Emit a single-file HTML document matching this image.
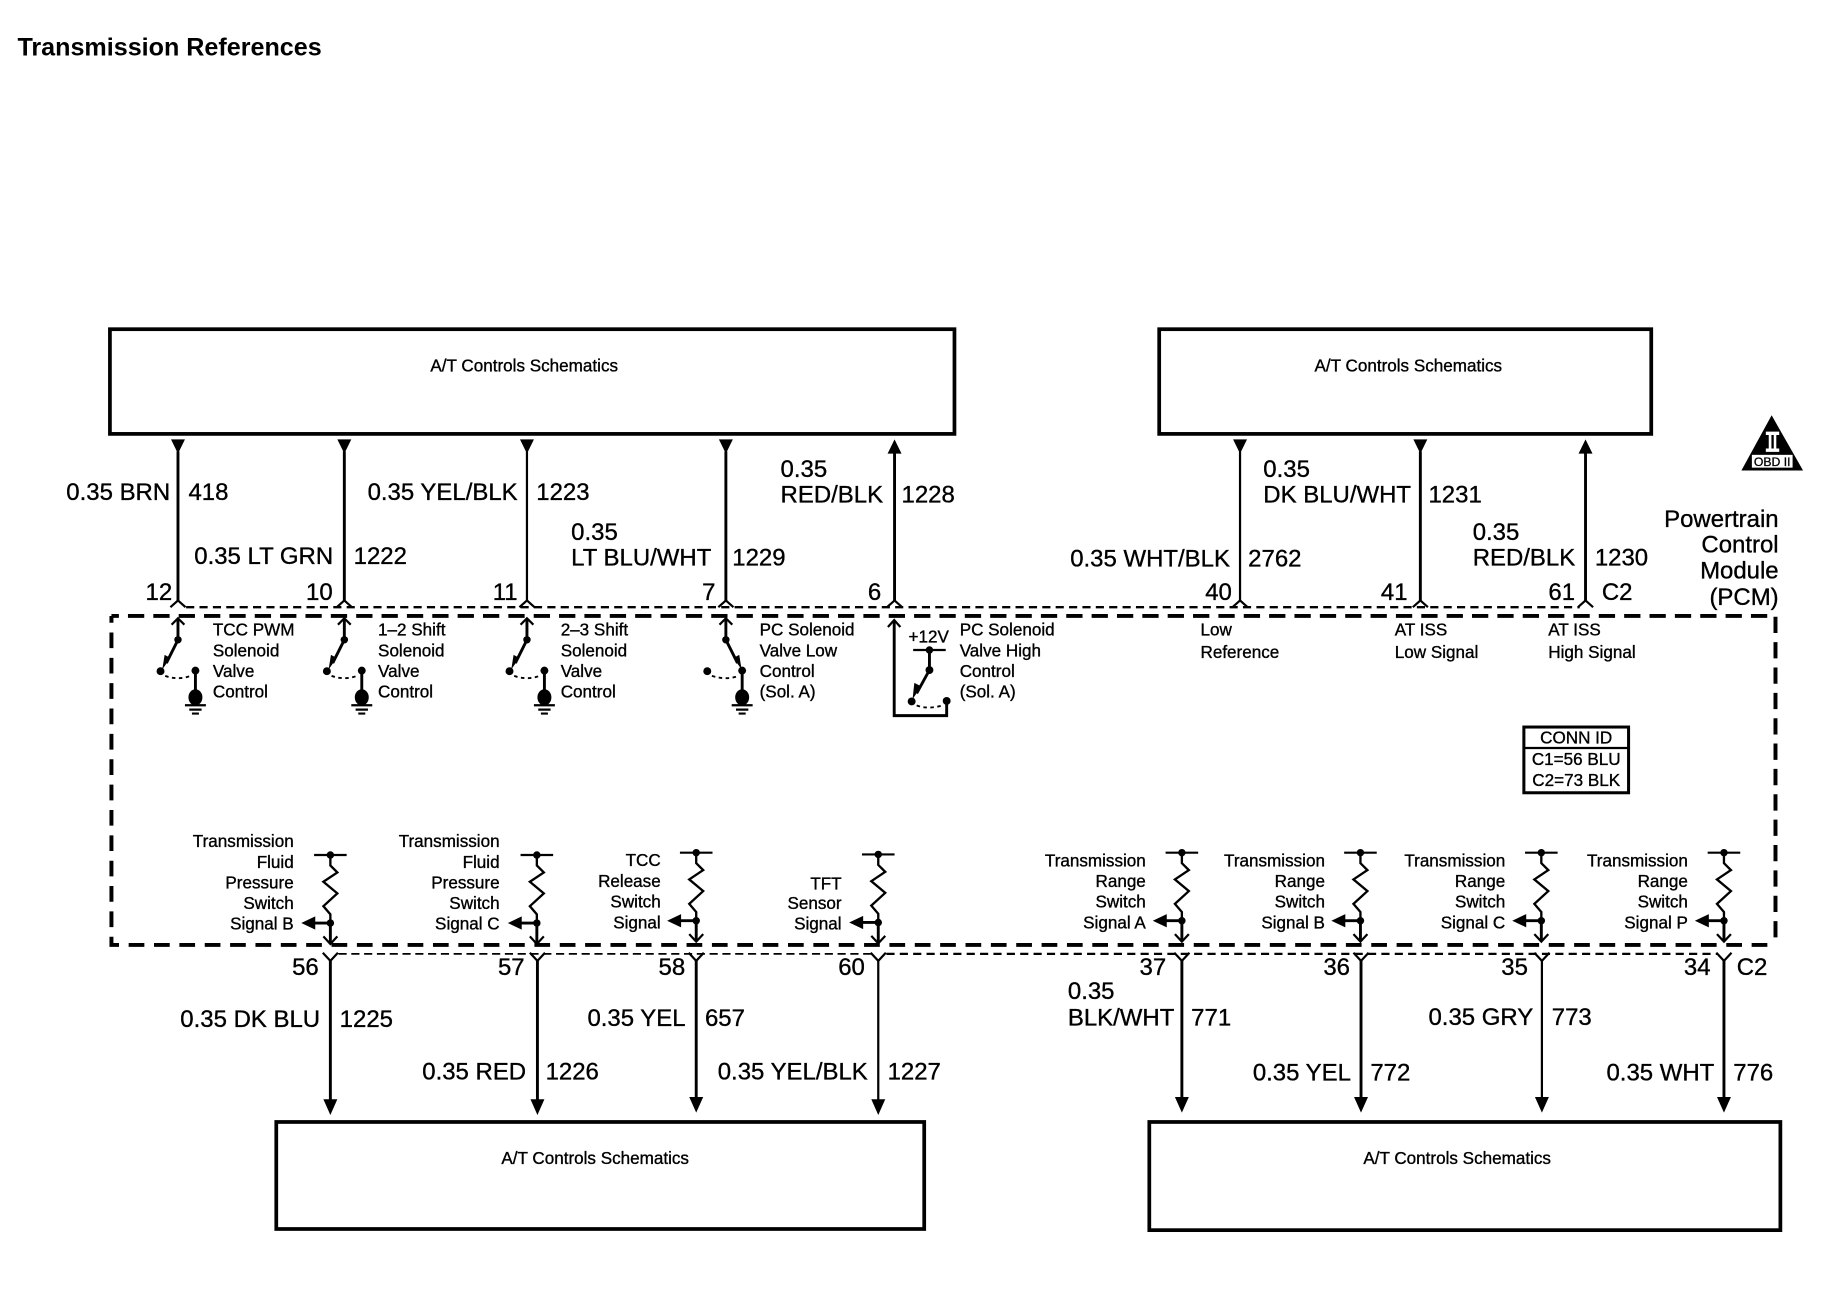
<!DOCTYPE html>
<html><head><meta charset="utf-8"><title>Transmission References</title>
<style>
html,body{margin:0;padding:0;background:#fff;width:1824px;height:1312px;overflow:hidden}
svg{display:block}
text{font-family:"Liberation Sans",sans-serif;fill:#000;stroke:#000;stroke-width:.3}
.s{font-size:14.7px}
.b{font-size:20.6px}
.e{text-anchor:end}
.m{text-anchor:middle}
.w{stroke:#000;stroke-width:2.5;fill:none}
.n{stroke:#000;stroke-width:1.9;fill:none}
.box{fill:#fff;stroke:#000;stroke-width:3.2}
</style></head><body>
<svg width="1824" height="1312" viewBox="0 0 1568 1127.86" xmlns="http://www.w3.org/2000/svg">
<defs>
<g id="gnd">
<path class="w" d="M15 577V600"/><ellipse cx="15" cy="599.5" rx="6" ry="7"/>
<path class="n" d="M6 606.3H24M9.7 610H20.3M12 613.4H18"/>
</g>
<g id="top"><path class="w" d="M0 552V532"/><path class="n" d="M-5.5 537L0 531.5L5.5 537"/><circle cx="0" cy="550" r="3.2"/></g>
<g id="swL">
<use href="#top"/><use href="#gnd"/>
<path class="w" d="M0 550L-10 570"/><path d="M-13.5 575.5L-11.5 563L-6.5 565.5Z"/>
<circle cx="-15" cy="577" r="3.4"/><circle cx="15" cy="576.5" r="3.4"/>
<path d="M-11 581Q0 585 11 581" fill="none" stroke="#000" stroke-width="1.6" stroke-dasharray="3 3"/>
</g>
<g id="sen">
<path class="n" d="M-14 0H14"/><circle cx="0" cy="0" r="3.2"/>
<path d="M0 0V9L6 15L-6 23L6 33L-6 44L0 51V58" fill="none" stroke="#000" stroke-width="2"/>
<circle cx="0" cy="58.5" r="3.2"/>
<path class="w" d="M0 58.5H-14"/><path d="M-25 58.5L-13 52.8V64.2Z"/>
<path class="w" d="M0 58V76"/><path class="n" d="M-6 70L0 76.5L6 70"/>
</g>
<path id="ad" d="M-6 377.7H6L0 390Z"/>
<path id="au" d="M-6 390H6L0 377.7Z"/>
<path id="bd" d="M-6 945H6L0 958.5Z"/>
<path id="chT" class="n" d="M-6.5 522L0 516.2L6.5 522"/>
<path id="chB" class="n" d="M-6.5 819L0 826L6.5 819"/>
</defs>

<text x="15" y="47.5" font-size="21.6" font-weight="bold" style="stroke-width:0">Transmission References</text>

<!-- boxes -->
<rect class="box" x="94.5" y="283" width="726" height="90"/>
<rect class="box" x="996.5" y="283" width="423" height="90"/>
<rect class="box" x="237.5" y="964.5" width="557" height="92"/>
<rect class="box" x="988" y="964.5" width="542.5" height="93"/>
<text class="s" x="370" y="319.5">A/T Controls Schematics</text>
<text class="s" x="1130" y="319.5">A/T Controls Schematics</text>
<text class="s" x="431" y="1000.5">A/T Controls Schematics</text>
<text class="s" x="1172" y="1000.5">A/T Controls Schematics</text>

<!-- PCM dashed boundary -->
<path d="M95.8 529.5H1526.3V812.3" fill="none" stroke="#000" stroke-width="3.4" stroke-dasharray="14 7.8" stroke-dashoffset="7.6"/>
<path d="M95.8 529.5V812.3H1526.3" fill="none" stroke="#000" stroke-width="3.4" stroke-dasharray="13.5 8.3" stroke-dashoffset="7.6"/>
<path d="M160 522H1358" fill="none" stroke="#000" stroke-width="2" stroke-dasharray="7 4.5"/>
<path d="M291 820H749" fill="none" stroke="#000" stroke-width="1.5" stroke-dasharray="7 4"/>
<path d="M762 820H1476" fill="none" stroke="#000" stroke-width="2" stroke-dasharray="7 4.5"/>

<!-- top wires -->
<g>
<path class="w" d="M153 388V517M296 388V517M624 388V517M769 388V517M1221 388V517M1363 388V517"/>
<path class="n" d="M453 388V517M1066 388V517"/>
<use href="#ad" x="153"/><use href="#ad" x="296"/><use href="#ad" x="453"/><use href="#ad" x="624"/>
<use href="#au" x="769"/><use href="#ad" x="1066"/><use href="#ad" x="1221"/><use href="#au" x="1363"/>
<use href="#chT" x="153"/><use href="#chT" x="296"/><use href="#chT" x="453"/><use href="#chT" x="624"/>
<use href="#chT" x="769"/><use href="#chT" x="1066"/><use href="#chT" x="1221"/><use href="#chT" x="1363"/>
</g>

<!-- bottom wires -->
<g>
<path class="w" d="M284 825V947M462 825V947M598.5 825V947M1016 825V947M1170 825V947M1482 825V947"/>
<path class="n" d="M755 825V947M1325.5 825V947"/>
<use href="#bd" x="284"/><use href="#bd" x="462"/><use href="#bd" x="598.5" y="-2"/><use href="#bd" x="755"/>
<use href="#bd" x="1016" y="-2"/><use href="#bd" x="1170" y="-2"/><use href="#bd" x="1325.5" y="-2"/><use href="#bd" x="1482" y="-2"/>
<use href="#chB" x="284"/><use href="#chB" x="462"/><use href="#chB" x="598.5"/><use href="#chB" x="755"/>
<use href="#chB" x="1016"/><use href="#chB" x="1170"/><use href="#chB" x="1325.5"/><use href="#chB" x="1482"/>
</g>

<!-- switches -->
<use href="#swL" x="153"/>
<use href="#swL" x="296"/>
<use href="#swL" x="453"/>
<g transform="translate(624,0)">
<use href="#top"/>
<use href="#gnd" x="-1"/>
<path class="w" d="M0 550L10 570"/><path d="M13.5 575.5L6.5 565.5L11.5 563Z"/>
<circle cx="-16" cy="577" r="3.4"/><circle cx="14" cy="576.5" r="3.4"/>
<path d="M-12 581Q0 585 11 581" fill="none" stroke="#000" stroke-width="1.6" stroke-dasharray="3 3"/>
</g>
<g>
<path class="w" d="M768.7 534V615.2H813.8V603"/><path class="n" d="M763.3 539L768.7 533L774 539"/>
<path class="n" d="M785 558.8H813"/><circle cx="799" cy="558.8" r="3.2"/>
<path class="w" d="M799 558.8V576L788 596"/><circle cx="799" cy="576" r="3.4"/>
<path d="M784.5 601L786 587L792 590Z"/>
<circle cx="783.7" cy="603" r="3.4"/><circle cx="813.8" cy="602.6" r="3.4"/>
<path d="M788 606.5Q798 610 810 606.5" fill="none" stroke="#000" stroke-width="1.6" stroke-dasharray="3 3"/>
</g>

<!-- sensors -->
<use href="#sen" transform="translate(284,735)"/>
<use href="#sen" transform="translate(461.5,735)"/>
<use href="#sen" transform="translate(598.5,733)"/>
<use href="#sen" transform="translate(755,734.5)"/>
<use href="#sen" transform="translate(1016,733)"/>
<use href="#sen" transform="translate(1169.5,733)"/>
<use href="#sen" transform="translate(1325,733)"/>
<use href="#sen" transform="translate(1482,733)"/>

<!-- wire labels top -->
<g>
<text class="b" x="57" y="430">0.35 BRN</text><text class="b" x="162" y="430">418</text>
<text class="b" x="167" y="485">0.35 LT GRN</text><text class="b" x="304" y="485">1222</text>
<text class="b" x="316" y="430">0.35 YEL/BLK</text><text class="b" x="461" y="430">1223</text>
<text class="b" x="491" y="464">0.35</text><text class="b" x="491" y="486">LT BLU/WHT</text><text class="b" x="629.5" y="486">1229</text>
<text class="b" x="671" y="410">0.35</text><text class="b" x="671" y="432">RED/BLK</text><text class="b" x="775" y="432">1228</text>
<text class="b" x="920" y="487">0.35 WHT/BLK</text><text class="b" x="1073" y="487">2762</text>
<text class="b" x="1086" y="410">0.35</text><text class="b" x="1086" y="432">DK BLU/WHT</text><text class="b" x="1228" y="432">1231</text>
<text class="b" x="1266" y="464">0.35</text><text class="b" x="1266" y="486">RED/BLK</text><text class="b" x="1371" y="486">1230</text>
<text class="b e" x="148" y="516">12</text><text class="b e" x="286" y="516">10</text><text class="b e" x="445" y="516">11</text>
<text class="b e" x="615" y="516">7</text><text class="b e" x="757.5" y="516">6</text><text class="b e" x="1059" y="516">40</text>
<text class="b e" x="1210" y="516">41</text><text class="b e" x="1354" y="516">61</text><text class="b" x="1377" y="516">C2</text>
<text class="b e" x="1529" y="453">Powertrain</text><text class="b e" x="1529" y="475">Control</text>
<text class="b e" x="1529" y="497.5">Module</text><text class="b e" x="1529" y="520">(PCM)</text>
</g>

<!-- wire labels bottom -->
<g>
<text class="b" x="155" y="883">0.35 DK BLU</text><text class="b" x="292" y="883">1225</text>
<text class="b" x="363" y="928">0.35 RED</text><text class="b" x="469" y="928">1226</text>
<text class="b" x="505" y="882">0.35 YEL</text><text class="b" x="606" y="882">657</text>
<text class="b" x="617" y="928">0.35 YEL/BLK</text><text class="b" x="763" y="928">1227</text>
<text class="b" x="918" y="859">0.35</text><text class="b" x="918" y="881.5">BLK/WHT</text><text class="b" x="1024" y="881.5">771</text>
<text class="b" x="1077" y="929">0.35 YEL</text><text class="b" x="1178" y="929">772</text>
<text class="b" x="1228" y="881">0.35 GRY</text><text class="b" x="1334" y="881">773</text>
<text class="b" x="1381" y="929">0.35 WHT</text><text class="b" x="1490" y="929">776</text>
<text class="b e" x="274" y="838">56</text><text class="b e" x="451" y="838">57</text><text class="b e" x="589" y="838">58</text><text class="b e" x="743.5" y="838">60</text>
<text class="b e" x="1002.5" y="838">37</text><text class="b e" x="1160.5" y="838">36</text><text class="b e" x="1313.5" y="838">35</text><text class="b e" x="1470.5" y="838">34</text>
<text class="b" x="1493" y="838">C2</text>
</g>

<!-- upper module labels -->
<g>
<text class="s" x="183" y="546.5">TCC PWM</text><text class="s" x="183" y="564.5">Solenoid</text><text class="s" x="183" y="582">Valve</text><text class="s" x="183" y="599.5">Control</text>
<text class="s" x="325" y="546.5">1–2 Shift</text><text class="s" x="325" y="564.5">Solenoid</text><text class="s" x="325" y="582">Valve</text><text class="s" x="325" y="599.5">Control</text>
<text class="s" x="482" y="546.5">2–3 Shift</text><text class="s" x="482" y="564.5">Solenoid</text><text class="s" x="482" y="582">Valve</text><text class="s" x="482" y="599.5">Control</text>
<text class="s" x="653" y="546.5">PC Solenoid</text><text class="s" x="653" y="564.5">Valve Low</text><text class="s" x="653" y="582">Control</text><text class="s" x="653" y="599.5">(Sol. A)</text>
<text class="s" x="825" y="546.5">PC Solenoid</text><text class="s" x="825" y="564.5">Valve High</text><text class="s" x="825" y="582">Control</text><text class="s" x="825" y="599.5">(Sol. A)</text>
<text class="s" x="781" y="552.5">+12V</text>
<text class="s" x="1032" y="546.5">Low</text><text class="s" x="1032" y="565.5">Reference</text>
<text class="s" x="1199" y="546.5">AT ISS</text><text class="s" x="1199" y="565.5">Low Signal</text>
<text class="s" x="1331" y="546.5">AT ISS</text><text class="s" x="1331" y="565.5">High Signal</text>
</g>

<!-- lower module labels -->
<g>
<text class="s e" x="252.5" y="728">Transmission</text><text class="s e" x="252.5" y="746">Fluid</text><text class="s e" x="252.5" y="764">Pressure</text><text class="s e" x="252.5" y="781.5">Switch</text><text class="s e" x="252.5" y="799">Signal B</text>
<text class="s e" x="429.5" y="728">Transmission</text><text class="s e" x="429.5" y="746">Fluid</text><text class="s e" x="429.5" y="764">Pressure</text><text class="s e" x="429.5" y="781.5">Switch</text><text class="s e" x="429.5" y="799">Signal C</text>
<text class="s e" x="568" y="744.5">TCC</text><text class="s e" x="568" y="762.5">Release</text><text class="s e" x="568" y="780">Switch</text><text class="s e" x="568" y="798">Signal</text>
<text class="s e" x="723.5" y="764.5">TFT</text><text class="s e" x="723.5" y="781.5">Sensor</text><text class="s e" x="723.5" y="799">Signal</text>
<text class="s e" x="985" y="745">Transmission</text><text class="s e" x="985" y="762.5">Range</text><text class="s e" x="985" y="780">Switch</text><text class="s e" x="985" y="798">Signal A</text>
<text class="s e" x="1139" y="745">Transmission</text><text class="s e" x="1139" y="762.5">Range</text><text class="s e" x="1139" y="780">Switch</text><text class="s e" x="1139" y="798">Signal B</text>
<text class="s e" x="1294" y="745">Transmission</text><text class="s e" x="1294" y="762.5">Range</text><text class="s e" x="1294" y="780">Switch</text><text class="s e" x="1294" y="798">Signal C</text>
<text class="s e" x="1451" y="745">Transmission</text><text class="s e" x="1451" y="762.5">Range</text><text class="s e" x="1451" y="780">Switch</text><text class="s e" x="1451" y="798">Signal P</text>
</g>

<!-- CONN ID -->
<rect x="1310" y="625" width="90" height="56.5" fill="#fff" stroke="#000" stroke-width="2.6"/>
<path d="M1310 643H1400" stroke="#000" stroke-width="2" fill="none"/>
<text class="s m" x="1355" y="639">CONN ID</text>
<text class="s m" x="1355" y="657.5">C1=56 BLU</text>
<text class="s m" x="1355" y="675.5">C2=73 BLK</text>

<!-- OBD II -->
<path d="M1523 357L1550 404.5H1497Z"/>
<rect x="1506" y="391" width="35" height="11" fill="#fff"/>
<path d="M1518 371H1529.5V374H1527V385.5H1529.5V388.5H1518V385.5H1520.5V374H1518ZM1522.8 374V385.5H1524.8V374Z" fill="#fff" fill-rule="evenodd"/>
<text class="m" x="1523.5" y="400.5" font-size="10.5" style="stroke-width:.25">OBD II</text>
</svg>
</body></html>
